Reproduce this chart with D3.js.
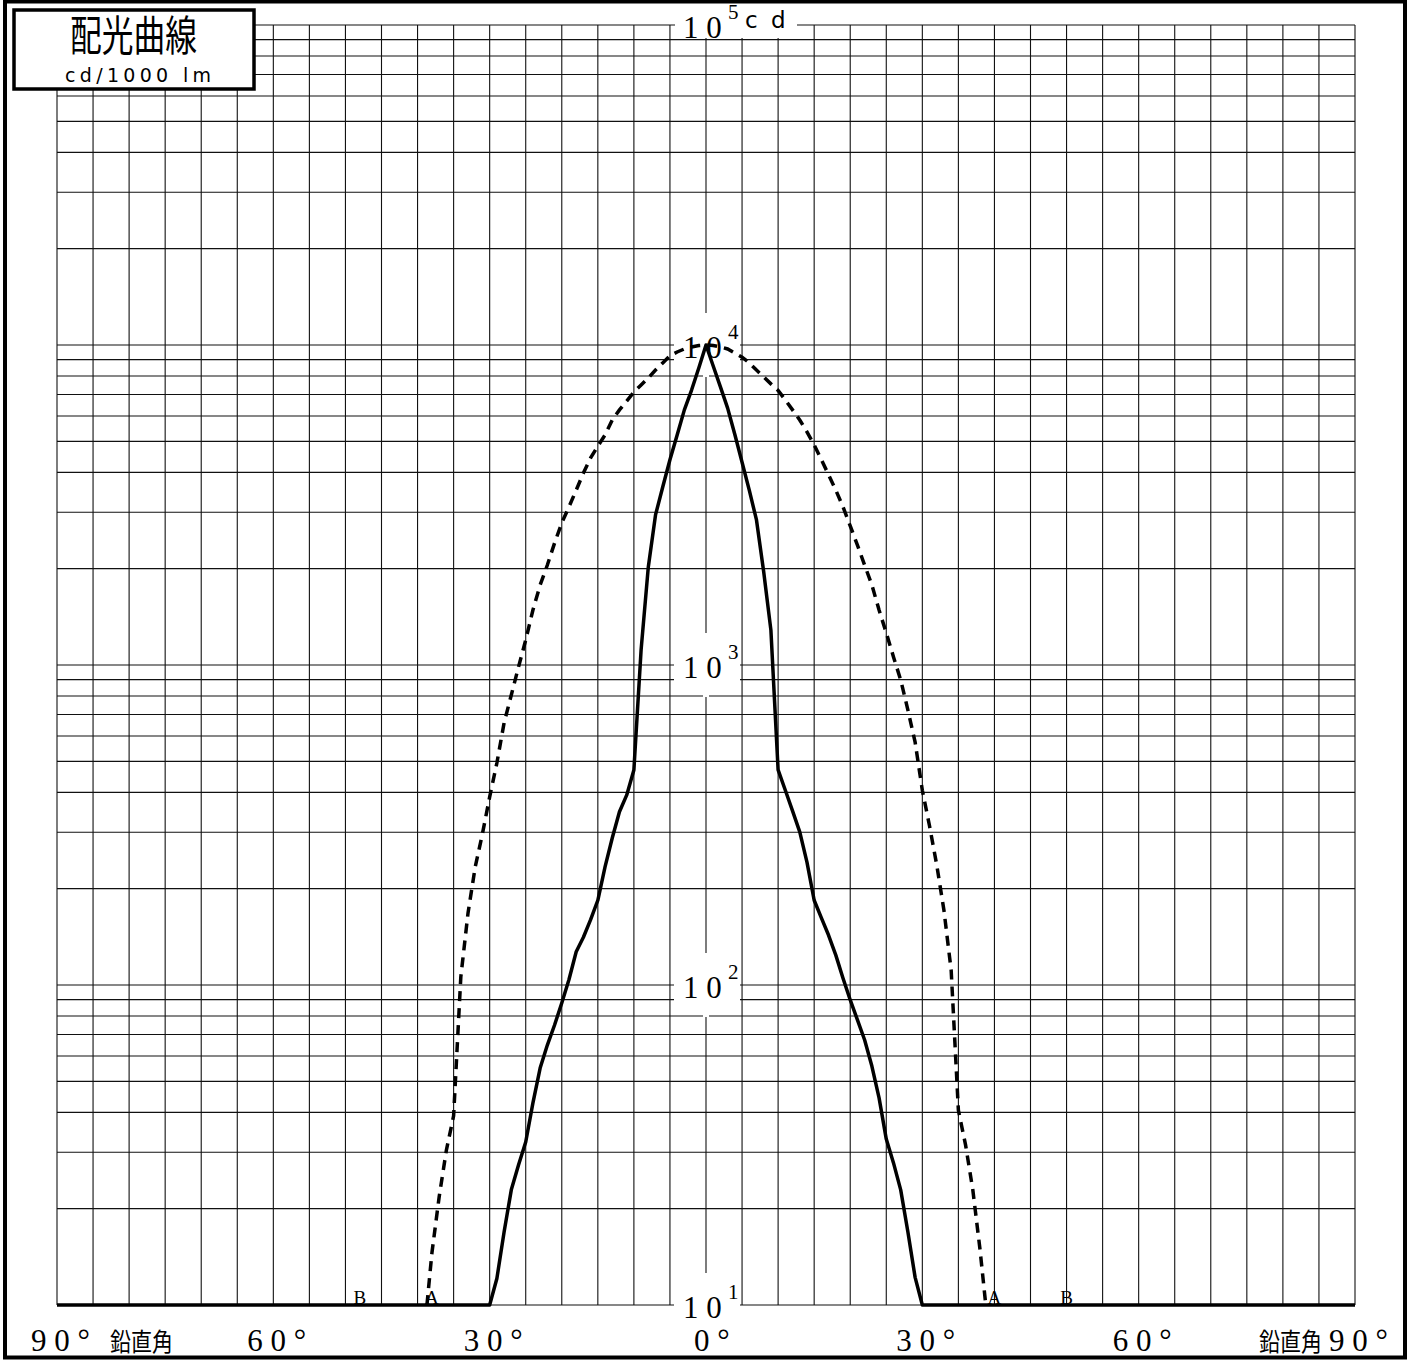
<!DOCTYPE html>
<meta charset="utf-8">
<style>
  body { margin: 0; background: #fff; }
  .grid line { stroke: #111; stroke-width: 1.1; }
  .serif { font-family: "Liberation Serif", "DejaVu Serif", serif; }
  .sans { font-family: "DejaVu Sans", sans-serif; }
  .cjk { font-family: "Noto Sans CJK JP", sans-serif; }
</style>
<body>
<script src="https://d3js.org/d3.v7.min.js"></script>
<script>

  // angles (deg) and intensities (cd/1000 lm)
  var solidAngles = [-90, -30, -29, -28, -27, -26, -25, -24, -23, -22, -21, -20, -19, -18, -17, -16, -15,
    -14, -13, -12, -11, -10, -9, -8, -7, -6, -5, -4, -3, -2, -1, 0,
    1, 2, 3, 4, 5, 6, 7, 8, 9, 10, 11, 12, 13, 14, 15, 16, 17, 18, 19, 20,
    21, 22, 23, 24, 25, 26, 27, 28, 29, 30, 90];
  var solidValues = [10, 10, 12.1, 16.9, 22.9, 27.4, 32.3, 42.8, 55.0, 64.9, 75.0, 87.9, 104, 127, 141, 160, 184,
    234, 288, 348, 392, 470, 1115, 2025, 2945, 3600, 4380, 5235, 6270, 7230, 8470, 10000,
    8600, 7400, 6350, 5250, 4300, 3520, 2840, 1955, 1285, 470, 406, 350, 301, 242, 184, 162, 143, 124, 105, 89.8,
    77.8, 67.3, 55.8, 44.4, 33.0, 27.8, 22.9, 16.9, 12.2, 10, 10];

  var dashedAngles = [-38.7, -38, -37, -36, -35, -34, -33, -32, -31, -30, -29, -28, -27, -26, -25, -24, -23, -22,
    -21, -20, -19, -18, -17, -16, -15, -14, -13, -12, -11, -10, -9, -8, -7, -6, -5, -4, -3, -2, -1, 0,
    1, 2, 3, 4, 5, 6, 7, 8, 9, 10, 11, 12, 13, 14, 15, 16, 17, 18, 19, 20,
    21, 22, 23, 24, 25, 26, 27, 28, 29, 30, 31, 32, 33, 34, 35, 36, 37, 38, 38.8];
  var dashedValues = [10, 14.6, 21.8, 30.5, 39, 106, 168, 234, 297, 387, 494, 659, 806, 986, 1197, 1485, 1778, 2053,
    2405, 2780, 3120, 3520, 3980, 4440, 4830, 5235, 5830, 6270, 6680, 7130, 7500, 7890, 8350, 8790, 9250, 9510, 9720, 9860, 9960, 10000,
    9960, 9860, 9720, 9440, 9160, 8790, 8350, 7950, 7560, 7210, 6730, 6270, 5830, 5350, 4870, 4380, 3930, 3520, 3120, 2720,
    2370, 2050, 1780, 1485, 1260, 1060, 898, 723, 574, 406, 314, 237, 171, 111, 40.6, 31.6, 22.9, 14.9, 10];

  var xTickValues = [-90, -60, -30, 0, 30, 60, 90];
  var xTickLabels = ["9 0 °", "6 0 °", "3 0 °", "0 °", "3 0 °", "6 0 °", "9 0 °"];
  var yLabelExponents = [1, 2, 3, 4, 5];
  var curveLetters = ["B", "A", "A", "B"];
  var curveLetterAngles = [-48, -38, 40, 50];

  var W = 1410, H = 1360;
  var margin = { top: 25, left: 57 },
    width = 1298,
    height = 1280;

  var svg = d3.select("body").append("svg")
    .attr("width", W)
    .attr("height", H);

  svg.append("rect").attr("width", W).attr("height", H).attr("fill", "#fff");

  var x = d3.scaleLinear().domain([-90, 90]).range([margin.left, margin.left + width]);
  var y = d3.scaleLog().domain([10, 100000]).range([margin.top + height, margin.top]);

  // grid
  var grid = svg.append("g").attr("class", "grid");
  grid.selectAll(".v")
    .data(d3.range(-90, 91, 5))
    .enter().append("line")
    .attr("x1", d => x(d)).attr("x2", d => x(d))
    .attr("y1", y(100000)).attr("y2", y(10));
  grid.selectAll(".h")
    .data(y.ticks())
    .enter().append("line")
    .attr("x1", x(-90)).attr("x2", x(90))
    .attr("y1", d => y(d)).attr("y2", d => y(d));

  // white boxes behind the decade labels
  yLabelExponents.forEach(function (k) {
    var yy = y(Math.pow(10, k));
    if (k === 5) {
      svg.append("rect").attr("x", 675).attr("y", 0).attr("width", 122).attr("height", 38).attr("fill", "#fff");
    } else {
      svg.append("rect").attr("x", 674).attr("y", yy - 32).attr("width", 66).attr("height", 52).attr("fill", "#fff");
      svg.append("rect").attr("x", x(0) - 3).attr("y", yy + 18).attr("width", 6).attr("height", 14).attr("fill", "#fff");
    }
  });

  // curves
  var line = d3.line()
    .x(d => x(d[0]))
    .y(d => y(d[1]));

  svg.append("path")
    .datum(dashedAngles.map((a, i) => [a, dashedValues[i]]))
    .attr("d", line)
    .attr("fill", "none")
    .attr("stroke", "#000")
    .attr("stroke-width", 3.5)
    .attr("stroke-dasharray", "10,7");

  svg.append("path")
    .datum(solidAngles.map((a, i) => [a, solidValues[i]]))
    .attr("d", line)
    .attr("fill", "none")
    .attr("stroke", "#000")
    .attr("stroke-width", 3.5)
    .attr("stroke-linejoin", "round");

  // decade labels
  yLabelExponents.forEach(function (k) {
    var yy = y(Math.pow(10, k));
    svg.append("text").attr("class", "serif")
      .attr("x", 683).attr("y", yy + 13)
      .style("font-size", "31px")
      .text("1 0");
    svg.append("text").attr("class", "serif")
      .attr("x", 728).attr("y", yy - 6)
      .style("font-size", "21px")
      .text(k);
  });
  svg.append("text").attr("class", "sans")
    .attr("x", 745).attr("y", 28)
    .style("font-size", "23px")
    .style("letter-spacing", "3px")
    .text("c d");

  // angle labels
  svg.selectAll(".xl")
    .data(xTickValues)
    .enter().append("text")
    .attr("class", "serif")
    .attr("x", d => d === 0 ? x(d) - 12 : x(d) - 26)
    .attr("y", 1351)
    .style("font-size", "31px")
    .text((d, i) => xTickLabels[i]);

  // 鉛直角 captions, a little taller than wide like the original lettering
  [110, x(90) - 96].forEach(function (px) {
    svg.append("g")
      .attr("transform", "translate(" + px + ",1351) scale(1,1.18)")
      .append("text").attr("class", "cjk")
      .style("font-size", "21px")
      .text("鉛直角");
  });

  // curve letters
  svg.selectAll(".cl")
    .data(curveLetterAngles)
    .enter().append("text")
    .attr("class", "serif")
    .attr("x", d => x(d))
    .attr("y", y(10) - 1)
    .attr("text-anchor", "middle")
    .style("font-size", "19px")
    .text((d, i) => curveLetters[i]);

  // title box
  svg.append("rect")
    .attr("x", 14).attr("y", 10).attr("width", 240).attr("height", 79)
    .attr("fill", "#fff").attr("stroke", "#000").attr("stroke-width", 3.5);
  svg.append("text").attr("class", "cjk")
    .attr("x", 70).attr("y", 51)
    .style("font-size", "42px")
    .attr("textLength", 127).attr("lengthAdjust", "spacingAndGlyphs")
    .text("配光曲線");
  svg.append("text").attr("class", "sans")
    .attr("x", 65).attr("y", 82)
    .style("font-size", "19px")
    .attr("textLength", 146).attr("lengthAdjust", "spacing")
    .text("cd/1000 lm");

  // outer frame
  svg.append("rect")
    .attr("x", 5).attr("y", 1.5).attr("width", 1400).attr("height", 1356)
    .attr("fill", "none").attr("stroke", "#000").attr("stroke-width", 4);

</script>
</body>
